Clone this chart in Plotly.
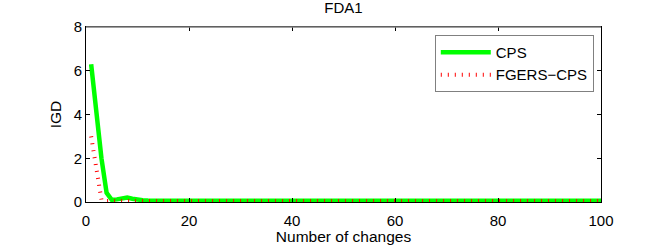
import plotly.graph_objects as go

changes = list(range(1, 101))

cps = [6.3, 4.0, 2.0, 0.42, 0.10, 0.12, 0.18, 0.20, 0.15, 0.10,
       0.08, 0.07, 0.07, 0.06, 0.06, 0.06, 0.06, 0.06, 0.06, 0.06,
       0.06, 0.06, 0.06, 0.06, 0.06, 0.06, 0.06, 0.06, 0.06, 0.06,
       0.06, 0.06, 0.06, 0.06, 0.06, 0.06, 0.06, 0.06, 0.06, 0.06,
       0.06, 0.06, 0.06, 0.06, 0.06, 0.06, 0.06, 0.06, 0.06, 0.06,
       0.06, 0.06, 0.06, 0.06, 0.06, 0.06, 0.06, 0.06, 0.06, 0.06,
       0.06, 0.06, 0.06, 0.06, 0.06, 0.06, 0.06, 0.06, 0.06, 0.06,
       0.06, 0.06, 0.06, 0.06, 0.06, 0.06, 0.06, 0.06, 0.06, 0.06,
       0.06, 0.06, 0.06, 0.06, 0.06, 0.06, 0.06, 0.06, 0.06, 0.06,
       0.06, 0.06, 0.06, 0.06, 0.06, 0.06, 0.06, 0.06, 0.06, 0.06]

fgers_cps = [3.0, 1.55, 0.10, 0.05, 0.05, 0.05, 0.05, 0.05, 0.05, 0.05,
             0.05, 0.05, 0.05, 0.05, 0.05, 0.05, 0.05, 0.05, 0.05, 0.05,
             0.05, 0.05, 0.05, 0.05, 0.05, 0.05, 0.05, 0.05, 0.05, 0.05,
             0.05, 0.05, 0.05, 0.05, 0.05, 0.05, 0.05, 0.05, 0.05, 0.05,
             0.05, 0.05, 0.05, 0.05, 0.05, 0.05, 0.05, 0.05, 0.05, 0.05,
             0.05, 0.05, 0.05, 0.05, 0.05, 0.05, 0.05, 0.05, 0.05, 0.05,
             0.05, 0.05, 0.05, 0.05, 0.05, 0.05, 0.05, 0.05, 0.05, 0.05,
             0.05, 0.05, 0.05, 0.05, 0.05, 0.05, 0.05, 0.05, 0.05, 0.05,
             0.05, 0.05, 0.05, 0.05, 0.05, 0.05, 0.05, 0.05, 0.05, 0.05,
             0.05, 0.05, 0.05, 0.05, 0.05, 0.05, 0.05, 0.05, 0.05, 0.05]

x_ticks = [0, 20, 40, 60, 80, 100]
y_ticks = [0, 2, 4, 6, 8]

FONT = "Liberation Sans, Arial, Helvetica, sans-serif"

fig = go.Figure()
fig.add_trace(go.Scatter(x=changes, y=cps, mode="lines", name="CPS",
                         line=dict(color="#00ff00", width=4.5)))
fig.add_trace(go.Scatter(x=changes, y=fgers_cps, mode="lines", name="FGERS\u2212CPS",
                         line=dict(color="#ff0000", width=4, dash="1px,6px")))

fig.update_layout(
    width=664, height=245,
    margin=dict(l=86, r=63, t=27, b=43),
    paper_bgcolor="white", plot_bgcolor="white",
    font=dict(family=FONT, size=15, color="black"),
    title=dict(text="FDA1", x=0.5, xref="paper", xanchor="center",
               y=1, yref="container", yanchor="top", pad=dict(t=2),
               font=dict(size=15, family=FONT, color="black")),
    showlegend=True,
    legend=dict(x=0.986, y=0.955, xanchor="right", yanchor="top",
                bgcolor="white", bordercolor="#808080", borderwidth=1,
                font=dict(size=15, family=FONT), tracegroupgap=0,
                itemwidth=50),
)
fig.update_xaxes(range=[0, 100], tickvals=x_ticks, ticktext=[str(v) for v in x_ticks],
                 ticks="inside", ticklen=4, tickcolor="black",
                 showline=True, linecolor="black", linewidth=1, mirror="ticks",
                 showgrid=False, zeroline=False, tickfont=dict(size=15),
                 ticklabelstandoff=5, automargin=False,
                 title=dict(text="Number of changes", standoff=3, font=dict(size=15.5)))
fig.update_yaxes(range=[0, 8], tickvals=y_ticks, ticktext=[str(v) for v in y_ticks],
                 ticks="inside", ticklen=4, tickcolor="black",
                 showline=True, linecolor="black", linewidth=1, mirror="ticks",
                 showgrid=False, zeroline=False, tickfont=dict(size=15),
                 automargin=False,
                 title=dict(text="IGD", standoff=8, font=dict(size=15.5)))
fig.add_shape(type="line", xref="paper", yref="paper", x0=0, x1=1, y0=1, y1=1,
              line=dict(color="#808080", width=1.5))

fig.write_html("out.html", config={"displayModeBar": False},
               post_script="document.body.style.margin='0';")
